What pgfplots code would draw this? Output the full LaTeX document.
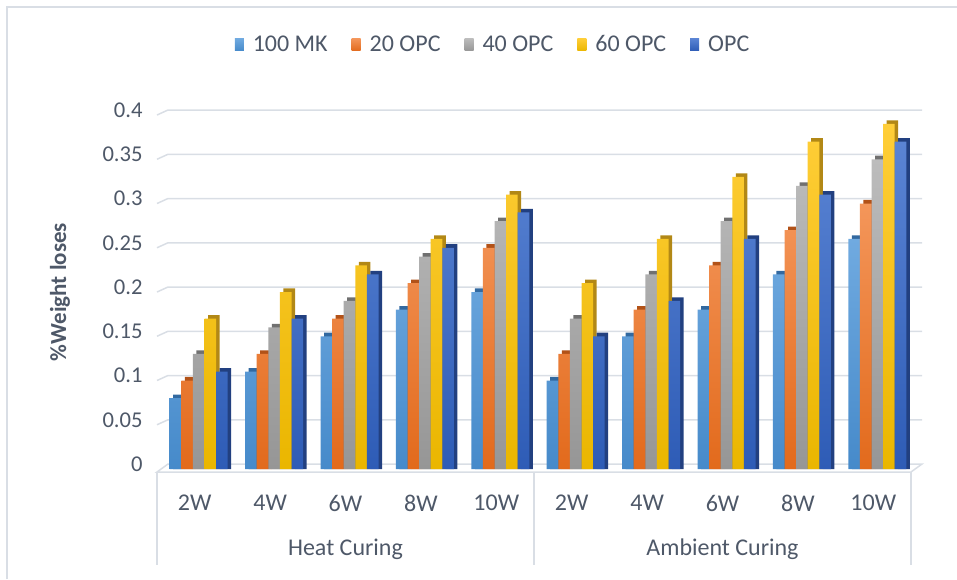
\documentclass[border=0pt]{standalone}
\usepackage{pgfplots}
\pgfplotsset{compat=1.18}
\usepackage{pgfplotstable}
\usepackage{fontspec}
\setmainfont{Carlito}

% text and frame colours
\definecolor{txt}{RGB}{78,88,104}
\definecolor{gridc}{RGB}{217,222,229}
% bar colours: lighter top, darker base, shaded side
\definecolor{mkT}{RGB}{112,170,224}\definecolor{mkB}{RGB}{70,138,202}\definecolor{mkS}{RGB}{50,105,160}
\definecolor{aT}{RGB}{244,150,90}\definecolor{aB}{RGB}{226,106,28}\definecolor{aS}{RGB}{178,82,24}
\definecolor{bT}{RGB}{188,188,188}\definecolor{bB}{RGB}{150,150,150}\definecolor{bS}{RGB}{112,112,112}
\definecolor{cT}{RGB}{255,206,56}\definecolor{cB}{RGB}{234,182,0}\definecolor{cS}{RGB}{178,136,22}
\definecolor{dT}{RGB}{90,132,212}\definecolor{dB}{RGB}{46,92,182}\definecolor{dS}{RGB}{34,64,128}

% weight loss per curing regime and age (2W..10W heat, then 2W..10W ambient)
\pgfplotstableread{
cat mk   o20  o40  o60  opc
0   0.08 0.10 0.13 0.17 0.11
1   0.11 0.13 0.16 0.20 0.17
2   0.15 0.17 0.19 0.23 0.22
3   0.18 0.21 0.24 0.26 0.25
4   0.20 0.25 0.28 0.31 0.29
5   0.10 0.13 0.17 0.21 0.15
6   0.15 0.18 0.22 0.26 0.19
7   0.18 0.23 0.28 0.33 0.26
8   0.22 0.27 0.32 0.37 0.31
9   0.26 0.30 0.35 0.39 0.37
}\data

% one pseudo-3D bar series: dark side/top block, then the shaded front face
\newcommand{\barseries}[5]{%
  \addplot[ybar, bar width=5.8pt, bar shift=#2+1.75pt, draw=none, fill=#5, forget plot]
    table[x=cat, y expr=\thisrow{#1}+0.004] {\data};
  \addplot[ybar, bar width=5.8pt, bar shift=#2, draw=none, top color=#3, bottom color=#4]
    table[x=cat, y=#1] {\data};
}

\begin{document}
\begin{tikzpicture}
\useasboundingbox (0,0) rectangle (478.5pt,289.5pt);
\draw[gridc, line width=0.75pt] (3.5pt,0) -- (3.5pt,286pt) -- (478.5pt,286pt);
\begin{axis}[
  at={(78.5pt,55pt)}, anchor=south west,
  scale only axis, width=377pt, height=177pt,
  xmin=-0.5, xmax=9.5, ymin=0, ymax=0.4,
  clip=false,
  axis line style={draw=none}, tick style={draw=none},
  xtick={0,1,2,3,4,5,6,7,8,9},
  xticklabels={2W,4W,6W,8W,10W,2W,4W,6W,8W,10W},
  ytick={0,0.05,0.1,0.15,0.2,0.25,0.3,0.35,0.4},
  yticklabels={0,0.05,0.1,0.15,0.2,0.25,0.3,0.35,0.4},
  scaled y ticks=false,
  xticklabel style={font={\fontsize{12}{14}\selectfont}, text=txt, anchor=center, inner sep=0pt, yshift=-17pt},
  yticklabel style={font={\fontsize{11.3}{13}\selectfont}, text=txt, anchor=east, inner sep=0pt, xshift=-7pt, yshift=2.5pt},
  legend columns=5,
  legend style={draw=none, fill=none, at={(0.447,1.198)}, anchor=center,
    font={\fontsize{12}{14}\selectfont}, text=txt,
    /tikz/every odd column/.append style={column sep=2.5pt},
    /tikz/every even column/.append style={column sep=10pt}},
  legend image code/.code={\path[#1] (0pt,-3pt) rectangle (4.5pt,3.2pt);},
]
% back-wall gridlines with their slanted floor returns
\pgfplotsinvokeforeach{0.05,0.1,0.15,0.2,0.25,0.3,0.35,0.4}{
  \draw[gridc, line width=0.75pt] (axis cs:-0.5,#1) -- ([xshift=5.5pt,yshift=2.5pt]axis cs:-0.5,#1)
    -- ([xshift=5.5pt,yshift=2.5pt]axis cs:9.5,#1);
}
% floor
\draw[gridc, line width=0.75pt] ([yshift=-1.5pt]axis cs:-0.5,0) -- ([yshift=-1.5pt]axis cs:9.5,0)
  -- ([xshift=5.5pt,yshift=2.5pt]axis cs:9.5,0) -- ([xshift=5.5pt,yshift=2.5pt]axis cs:-0.5,0) -- cycle;
% category box
\draw[gridc, line width=0.75pt] ([yshift=-1.5pt]axis cs:-0.5,0) -- ([yshift=-48pt]axis cs:-0.5,0);
\draw[gridc, line width=0.75pt] ([yshift=-1.5pt]axis cs:4.5,0) -- ([yshift=-48pt]axis cs:4.5,0);
\draw[gridc, line width=0.75pt] ([yshift=-1.5pt]axis cs:9.5,0) -- ([yshift=-48pt]axis cs:9.5,0);

\barseries{mk}{-9.6pt}{mkT}{mkB}{mkS}
\addlegendentry{100 MK}
\barseries{o20}{-3.8pt}{aT}{aB}{aS}
\addlegendentry{20 OPC}
\barseries{o40}{2pt}{bT}{bB}{bS}
\addlegendentry{40 OPC}
\barseries{o60}{7.8pt}{cT}{cB}{cS}
\addlegendentry{60 OPC}
\barseries{opc}{13.6pt}{dT}{dB}{dS}
\addlegendentry{OPC}

\node[font={\fontsize{12}{14}\selectfont}, text=txt] at ([yshift=-40pt]axis cs:2,0) {Heat Curing};
\node[font={\fontsize{12}{14}\selectfont}, text=txt] at ([yshift=-40pt]axis cs:7,0) {Ambient Curing};
\node[rotate=90, font={\bfseries\fontsize{11.5}{13}\selectfont}, text=txt] at ([xshift=-48.5pt]rel axis cs:0,0.5) {\%Weight loses};
\end{axis}
\end{tikzpicture}
\end{document}
